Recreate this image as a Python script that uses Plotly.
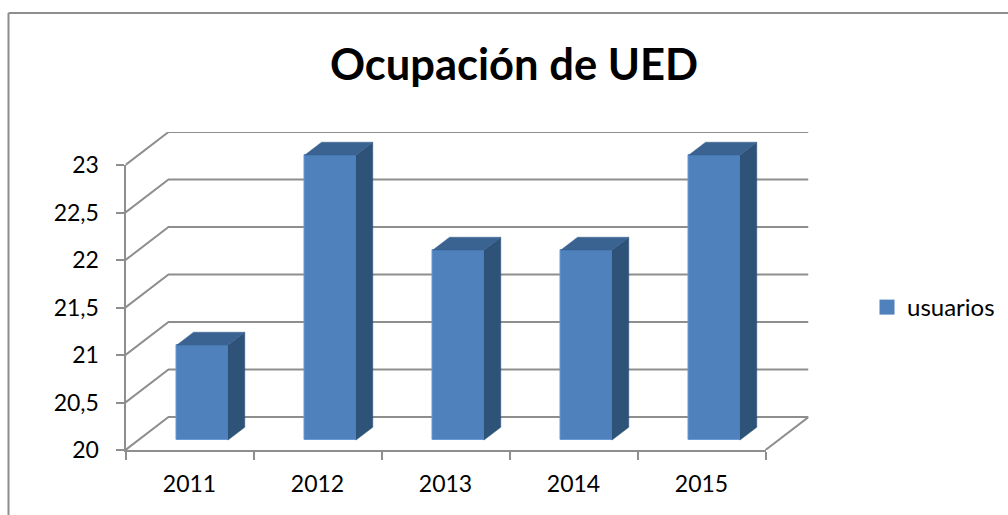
import plotly.graph_objects as go

# ---- data ----
YEARS = ["2011", "2012", "2013", "2014", "2015"]
USUARIOS = [21, 23, 22, 22, 23]
Y_TICKS = [20, 20.5, 21, 21.5, 22, 22.5, 23]
Y_TICK_TEXT = ["20", "20,5", "21", "21,5", "22", "22,5", "23"]
SERIES = "usuarios"
TITLE = "Ocupación de UED"

# ---- layout geometry (pixels of the 1008x515 picture) ----
W, H = 1008, 515
FRONT_L, FRONT_R, FRONT_BOTTOM, FRONT_TOP = 125.5, 765.5, 450, 165
DEPTH_PX_X, DEPTH_PX_Y = 43, 33
CAT_PX = (FRONT_R - FRONT_L) / len(YEARS)
UNIT_PX = (FRONT_BOTTOM - FRONT_TOP) / (Y_TICKS[-1] - Y_TICKS[0])
DX = DEPTH_PX_X / CAT_PX      # one full depth, in category units
DY = DEPTH_PX_Y / UNIT_PX     # one full depth, in value units
BAR_D0, BAR_D1 = 0.30, 0.69   # depth of bar front and back faces
BAR_W = 0.40

GRID = "#8E8E8E"
FRONT = "#4F81BD"
SIDE = "#2F5279"
TOP = "#3A6391"
FONT = "Lato, Carlito, Calibri, sans-serif"
TXT = "#000000"


def px(d):
    return d / W


def py(d):
    return 1 - d / H


def proj(cat, val, depth):
    """Project (category index, value, depth 0..1) onto the flat overlay axes."""
    return cat + depth * DX, val + depth * DY


y0 = Y_TICKS[0]
x_rng = [-0.5, -0.5 + len(YEARS) + DX]
y_rng = [y0, Y_TICKS[-1] + DY]

# wall and floor lines
gx, gy = [], []
last = len(YEARS) - 0.5
for t in Y_TICKS:
    for cat, val, dep in [(-0.5, t, 0), (-0.5, t, 1), (last, t, 1)]:
        a, b = proj(cat, val, dep)
        gx.append(a)
        gy.append(b)
    gx.append(None)
    gy.append(None)
for cat, val, dep in [(last, y0, 1), (last, y0, 0)]:
    a, b = proj(cat, val, dep)
    gx.append(a)
    gy.append(b)

# side and top faces of the columns
sx, sy, tx, ty = [], [], [], []
for i, v in enumerate(USUARIOS):
    r = i + BAR_W / 2
    l = i - BAR_W / 2
    for cat, val, dep in [(r, y0, BAR_D0), (r, y0, BAR_D1), (r, v, BAR_D1), (r, v, BAR_D0), (r, y0, BAR_D0)]:
        a, b = proj(cat, val, dep)
        sx.append(a)
        sy.append(b)
    sx.append(None)
    sy.append(None)
    for cat, val, dep in [(l, v, BAR_D0), (l, v, BAR_D1), (r, v, BAR_D1), (r, v, BAR_D0), (l, v, BAR_D0)]:
        a, b = proj(cat, val, dep)
        tx.append(a)
        ty.append(b)
    tx.append(None)
    ty.append(None)

fig = go.Figure()

# main axes: only carry ticks and labels
fig.add_trace(go.Scatter(x=YEARS, y=USUARIOS, mode="none", showlegend=False, hoverinfo="skip"))

# walls and floor
fig.add_trace(go.Scatter(x=gx, y=gy, mode="lines", line=dict(color=GRID, width=2),
                         showlegend=False, hoverinfo="skip", xaxis="x2", yaxis="y2"))

# column front faces
fig.add_trace(go.Bar(
    x=[proj(i, y0, BAR_D0)[0] for i in range(len(YEARS))],
    y=[v - y0 for v in USUARIOS],
    base=[proj(0, y0, BAR_D0)[1]] * len(YEARS),
    width=BAR_W,
    marker=dict(color=FRONT, line=dict(color="#6C9AD2", width=1)),
    showlegend=False, hoverinfo="skip", xaxis="x3", yaxis="y3"))
fig.add_trace(go.Scatter(x=sx, y=sy, mode="lines", fill="toself", fillcolor=SIDE, line=dict(color=SIDE, width=0.5),
                         showlegend=False, hoverinfo="skip", xaxis="x3", yaxis="y3"))
fig.add_trace(go.Scatter(x=tx, y=ty, mode="lines", fill="toself", fillcolor=TOP, line=dict(color=TOP, width=0.5),
                         showlegend=False, hoverinfo="skip", xaxis="x3", yaxis="y3"))

# legend entry
fig.add_trace(go.Scatter(x=[None], y=[None], mode="markers", name=SERIES,
                         marker=dict(symbol="square", size=15, color=FRONT, line=dict(width=0)),
                         xaxis="x3", yaxis="y3"))

over_x = [px(FRONT_L), px(FRONT_R + DEPTH_PX_X)]
over_y = [py(FRONT_BOTTOM), py(FRONT_TOP - DEPTH_PX_Y)]
hidden = dict(visible=False, showgrid=False, zeroline=False, fixedrange=True, automargin=False)

fig.update_layout(
    width=W, height=H,
    margin=dict(l=0, r=0, t=0, b=0, autoexpand=False),
    paper_bgcolor="white", plot_bgcolor="rgba(0,0,0,0)",
    font=dict(family=FONT, color=TXT, size=23),
    bargap=0,
    title=dict(text=f"<b>{TITLE}</b>", x=514 / W, xanchor="center", y=py(65), yanchor="middle",
               automargin=False, font=dict(family=FONT, size=43.5, color=TXT)),
    xaxis=dict(domain=[px(FRONT_L), px(FRONT_R)], type="category", categoryorder="array", categoryarray=YEARS,
               range=[-0.5, len(YEARS) - 0.5], tickson="boundaries", ticks="outside", ticklen=8, tickwidth=2,
               tickcolor=GRID, showline=True, linecolor=GRID, linewidth=2, showgrid=False, zeroline=False,
               ticklabelstandoff=12,
               tickfont=dict(family=FONT, size=23, color=TXT), anchor="y", fixedrange=True, automargin=False),
    yaxis=dict(domain=[py(FRONT_BOTTOM), py(FRONT_TOP)], range=[Y_TICKS[0], Y_TICKS[-1]], tickmode="array",
               tickvals=Y_TICKS, ticktext=Y_TICK_TEXT, ticks="outside", ticklen=8, tickwidth=2, tickcolor=GRID,
               showline=True, linecolor=GRID, linewidth=2, showgrid=False, zeroline=False,
               ticklabelstandoff=12,
               tickfont=dict(family=FONT, size=23, color=TXT), anchor="x", fixedrange=True, automargin=False),
    xaxis2=dict(domain=over_x, range=x_rng, anchor="y2", **hidden),
    yaxis2=dict(domain=over_y, range=y_rng, anchor="x2", **hidden),
    xaxis3=dict(domain=over_x, range=x_rng, anchor="y3", **hidden),
    yaxis3=dict(domain=over_y, range=y_rng, anchor="x3", **hidden),
    legend=dict(x=px(867), xanchor="left", y=py(307.5), yanchor="middle", bgcolor="rgba(0,0,0,0)",
                font=dict(family=FONT, size=24, color=TXT), itemsizing="trace"),
    shapes=[
        dict(type="line", xref="paper", yref="paper", x0=px(8.5), x1=px(8.5), y0=0, y1=py(13),
             line=dict(color=GRID, width=2)),
        dict(type="line", xref="paper", yref="paper", x0=px(8.5), x1=1, y0=py(13), y1=py(13),
             line=dict(color=GRID, width=2)),
    ],
)

fig.write_html("out.html", config={"displayModeBar": False},
               post_script="document.body.style.margin='0';document.body.style.overflow='hidden';")
